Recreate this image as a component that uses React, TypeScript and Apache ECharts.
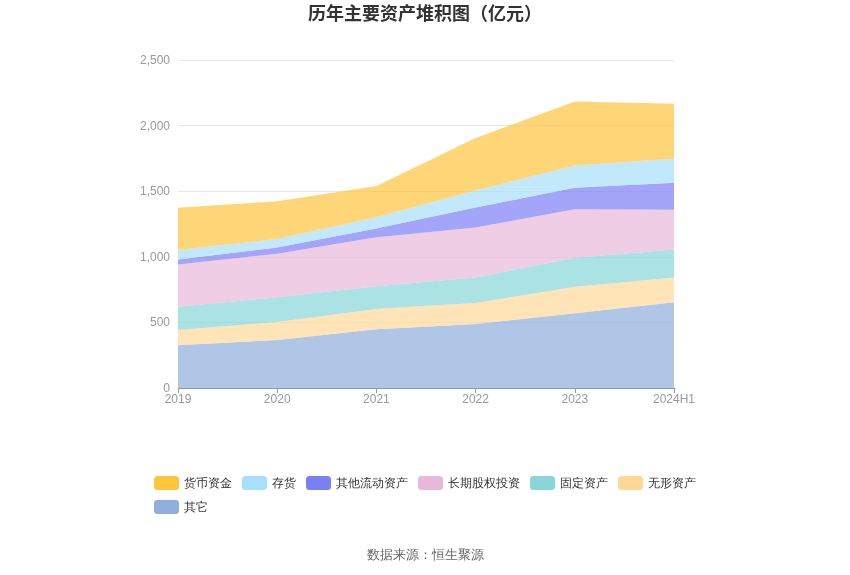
import React, { useEffect, useRef } from "react";
import * as echarts from "echarts";

const categories = ["2019", "2020", "2021", "2022", "2023", "2024H1"];
const seriesNames = ["货币资金", "存货", "其他流动资产", "长期股权投资", "固定资产", "无形资产", "其它"];
const cash = [323, 287, 237, 400, 488, 420];
const inventory = [71, 66, 86, 129, 170, 183];
const otherCurrent = [38, 46, 67, 153, 163, 206];
const longEquity = [323, 333, 373, 381, 371, 303];
const fixedAssets = [176, 188, 173, 194, 221, 213];
const intangible = [117, 137, 155, 160, 201, 188];
const others = [326, 366, 448, 488, 570, 654];
const yTicks = [0, 500, 1000, 1500, 2000, 2500];

const colors = ["#FFC53D", "#A6E0FA", "#7B7FF5", "#E8B8D8", "#88D6D8", "#FFD898", "#8EAEDD"];

export default function App() {
  const ref = useRef<HTMLDivElement>(null);
  useEffect(() => {
    if (!ref.current) return;
    const chart = echarts.init(ref.current, undefined, { renderer: "svg" });
    const dataArr = [cash, inventory, otherCurrent, longEquity, fixedAssets, intangible, others];
    // stacking order: bottom = 其它
    const order = [6, 5, 4, 3, 2, 1, 0];
    const series = order.map((i) => ({
      name: seriesNames[i],
      type: "line",
      stack: "total",
      data: dataArr[i],
      showSymbol: false,
      symbol: "none",
      lineStyle: { width: 0 },
      itemStyle: { color: colors[i] },
      areaStyle: { color: colors[i], opacity: 0.7 },
    }));
    chart.setOption({
      animation: false,
      color: colors,
      title: {
        text: "历年主要资产堆积图（亿元）",
        left: "center",
        top: -2,
        textStyle: {
          fontSize: 18,
          fontWeight: "bold",
          color: "#333",
          fontFamily: "Noto Sans CJK SC",
        },
      },
      legend: {
        data: seriesNames,
        left: "center",
        top: 471,
        width: 560,
        itemWidth: 25,
        itemHeight: 14,
        itemGap: 10,
        icon: "roundRect",
        textStyle: { fontSize: 12, color: "#333" },
      },
      grid: { left: 178, right: 176, top: 60, bottom: 187 },
      xAxis: {
        type: "category",
        data: categories,
        boundaryGap: false,
        axisLine: { lineStyle: { color: "#8C9BB5" } },
        axisTick: { show: true, lineStyle: { color: "#8C9BB5" } },
        axisLabel: { color: "#999", fontSize: 12, margin: 5 },
      },
      yAxis: {
        type: "value",
        min: yTicks[0],
        max: yTicks[yTicks.length - 1],
        interval: 500,
        axisLine: { show: false },
        axisTick: { show: false },
        axisLabel: { color: "#999", fontSize: 12, margin: 8 },
        splitLine: { lineStyle: { color: "#E3E7F0" } },
      },
      graphic: [
        {
          type: "text",
          left: "center",
          top: 548,
          style: { text: "数据来源：恒生聚源", fontSize: 13, fill: "#666" },
        },
      ],
      series,
    });
    return () => chart.dispose();
  }, []);
  return (
    <div
      ref={ref}
      style={{ position: "fixed", left: 0, top: 0, width: 850, height: 575 }}
    />
  );
}
